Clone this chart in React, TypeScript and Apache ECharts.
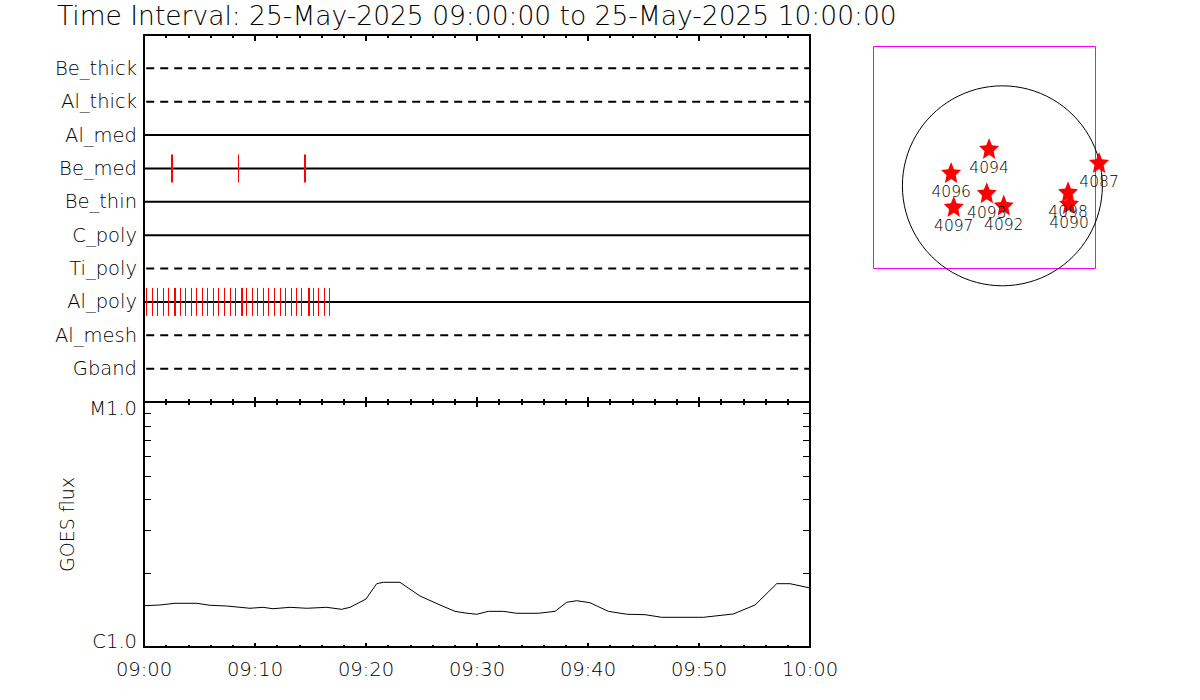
import React, { useEffect, useRef } from "react";
import * as echarts from "echarts";

const titleText = "Time Interval: 25-May-2025 09:00:00 to 25-May-2025 10:00:00";
const rowNames = ["Be_thick", "Al_thick", "Al_med", "Be_med", "Be_thin", "C_poly", "Ti_poly", "Al_poly", "Al_mesh", "Gband"];
const rowDashed = [true, true, false, false, false, false, true, false, true, true];
const beMedTimes = [2.43, 2.52, 8.51, 14.41, 14.5];
const alPolyTimes = [0.21, 0.69, 1.2, 1.71, 2.19, 2.7, 2.82, 3.22, 3.69, 4.21, 4.71, 5.2, 5.7, 6.22, 6.69, 7.21, 7.72, 8.2, 8.74, 8.86, 9.22, 9.7, 10.21, 10.69, 11.2, 11.71, 12.23, 12.7, 13.22, 13.69, 14.17, 14.73, 14.85, 15.22, 15.7, 16.22, 16.69];
const goesMinutes = [0, 1.44, 2.79, 4.75, 5.95, 7.45, 9.55, 10.72, 11.62, 13.15, 14.66, 16.46, 17.81, 18.56, 20.0, 20.96, 21.56, 23.06, 24.86, 26.67, 28.02, 28.92, 29.97, 31.02, 32.37, 33.57, 35.52, 37.03, 38.08, 38.98, 40.18, 41.83, 43.54, 45.14, 46.64, 50.39, 53.09, 55.05, 57.0, 58.2, 60];
const goesFlux = [1.474, 1.484, 1.508, 1.508, 1.48, 1.47, 1.439, 1.452, 1.433, 1.452, 1.439, 1.452, 1.425, 1.452, 1.57, 1.813, 1.837, 1.837, 1.615, 1.484, 1.398, 1.377, 1.36, 1.398, 1.398, 1.373, 1.373, 1.398, 1.522, 1.545, 1.516, 1.398, 1.36, 1.355, 1.322, 1.322, 1.364, 1.484, 1.813, 1.813, 1.741];
const fluxMinorTicks = [2, 3, 4, 5, 6, 7, 8, 9];
const regionNames = ["4094", "4096", "4093", "4097", "4092", "4098", "4090", "4087"];
const regionX = [-126, -486, -148, -461, 13, 623, 632, 917];
const regionY = [355, 127, -66, -195, -183, -57, -167, 222];
const sunRadius = 948;

const FONT = "DejaVu Sans";
const STAR = "path://M50 0 L64.1 32.6 L99.5 36 L72.8 59.4 L80.6 94 L50 76 L19.4 94 L27.2 59.4 L0.5 36 L35.9 32.6 Z";

function fmtTime(v: number) {
  const h = 9 + Math.floor(v / 60);
  const m = v % 60;
  return String(h).padStart(2, "0") + ":" + String(m).padStart(2, "0");
}

function timeAxis(gridIndex: number, position: string, major: number, minor: number, labels: boolean) {
  return {
    type: "value", gridIndex, position, min: 0, max: 60, interval: 10,
    axisLine: { show: true, onZero: false, lineStyle: { color: "#000", width: 2 } },
    axisTick: { show: true, inside: true, length: major, lineStyle: { color: "#000", width: 2 } },
    minorTick: { show: true, splitNumber: 5, length: minor, lineStyle: { color: "#000", width: 2 } },
    splitLine: { show: false }, minorSplitLine: { show: false },
    axisLabel: { show: labels, formatter: fmtTime, fontFamily: FONT, fontSize: 19.5, fontWeight: 200, color: "#000", margin: 12, hideOverlap: false, showMinLabel: true, showMaxLabel: true },
  };
}

export default function App() {
  const ref = useRef<HTMLDivElement>(null);
  useEffect(() => {
    const chart = echarts.init(ref.current!, undefined, { renderer: "svg" });
    const tickItem = (_p: any, api: any) => {
      const p = api.coord([api.value(0), api.value(1)]);
      const x = Math.round(p[0]) + 0.5;
      return { type: "line", shape: { x1: x, y1: p[1] - 14, x2: x, y2: p[1] + 14 }, style: { stroke: "#ff0000", lineWidth: 1 } };
    };
    const option: any = {
      animation: false,
      backgroundColor: "#fff",
      title: { text: titleText, left: 52, top: -3, textStyle: { fontFamily: FONT, fontSize: 26.5, fontWeight: 200, color: "#000" } },
      grid: [
        { left: 144, top: 35, width: 666, height: 367 },
        { left: 144, top: 402, width: 666, height: 245 },
        { left: 873.5, top: 46.5, width: 222, height: 222, show: true, borderColor: "#ff00ff", borderWidth: 1, backgroundColor: "transparent" },
      ],
      xAxis: [
        timeAxis(0, "top", 6, 3, false),
        timeAxis(0, "bottom", 5, 3, false),
        timeAxis(1, "top", 5, 3, false),
        timeAxis(1, "bottom", 4, 2, true),
        { type: "value", gridIndex: 2, min: -1222, max: 883, show: false },
      ],
      yAxis: [
        {
          type: "value", gridIndex: 0, position: "left", inverse: true, min: 0, max: 11, interval: 1,
          axisLine: { show: true, onZero: false, lineStyle: { color: "#000", width: 2 } }, axisTick: { show: false }, splitLine: { show: false },
          axisLabel: { formatter: (v: number) => rowNames[v - 1] || "", fontFamily: FONT, fontSize: 19.5, fontWeight: 200, color: "#000", margin: 7 },
        },
        {
          type: "value", gridIndex: 0, position: "right", inverse: true, min: 0, max: 11, interval: 1,
          axisLine: { show: true, onZero: false, lineStyle: { color: "#000", width: 2 } }, axisTick: { show: false }, splitLine: { show: false }, axisLabel: { show: false },
        },
        {
          type: "log", logBase: 10, gridIndex: 1, position: "left", min: 1, max: 10,
          axisLine: { show: true, onZero: false, lineStyle: { color: "#000", width: 2 } }, axisTick: { show: false }, splitLine: { show: false }, minorTick: { show: false },
          axisLabel: { formatter: (v: number) => (v < 5 ? "C1.0" : "M1.0"), fontFamily: FONT, fontSize: 19.5, fontWeight: 200, color: "#000", margin: 7, lineHeight: 12, verticalAlignMinLabel: "bottom", verticalAlignMaxLabel: "top" },
          name: "GOES flux", nameLocation: "middle", nameGap: 68, nameRotate: 90,
          nameTextStyle: { fontFamily: FONT, fontSize: 19, fontWeight: 200, color: "#000" },
        },
        {
          type: "log", logBase: 10, gridIndex: 1, position: "right", min: 1, max: 10,
          axisLine: { show: true, onZero: false, lineStyle: { color: "#000", width: 2 } }, axisTick: { show: false }, splitLine: { show: false }, axisLabel: { show: false },
        },
        { type: "value", gridIndex: 2, min: -784, max: 1321, show: false },
      ],
      series: [
        ...rowNames.map((name, i) => ({
          type: "line", name, xAxisIndex: 0, yAxisIndex: 0, silent: true, symbol: "none",
          data: [[rowDashed[i] ? 0.2 : 0, i + 1], [60, i + 1]],
          lineStyle: { color: "#000", width: 2, type: rowDashed[i] ? [8, 6] : "solid" },
        })),
        {
          type: "custom", xAxisIndex: 0, yAxisIndex: 0, z: 5, renderItem: tickItem,
          data: [...beMedTimes.map((t) => [t, 4]), ...alPolyTimes.map((t) => [t, 8])],
        },
        {
          type: "custom", xAxisIndex: 3, yAxisIndex: 2, z: 3,
          renderItem: (_p: any, api: any) => {
            const a = api.coord([0, api.value(0)]);
            const b = api.coord([60, api.value(0)]);
            const y = Math.round(a[1]) + 0.5;
            return {
              type: "group",
              children: [
                { type: "line", shape: { x1: a[0], y1: y, x2: a[0] + 7, y2: y }, style: { stroke: "#000", lineWidth: 1 } },
                { type: "line", shape: { x1: b[0] - 7, y1: y, x2: b[0], y2: y }, style: { stroke: "#000", lineWidth: 1 } },
              ],
            };
          },
          encode: { y: 0 },
          data: fluxMinorTicks.map((v) => [v]),
        },
        {
          type: "line", xAxisIndex: 3, yAxisIndex: 2, symbol: "none", silent: true,
          data: goesMinutes.map((t, i) => [t, goesFlux[i]]),
          lineStyle: { color: "#000", width: 1 },
        },
        {
          type: "custom", xAxisIndex: 4, yAxisIndex: 4, clip: false, z: 2,
          renderItem: (_p: any, api: any) => {
            const c = api.coord([0, 0]);
            const e = api.coord([sunRadius, 0]);
            return { type: "circle", shape: { cx: c[0], cy: c[1], r: e[0] - c[0] }, style: { fill: "none", stroke: "#000", lineWidth: 1 } };
          },
          data: [[0, 0]],
        },
        {
          type: "scatter", xAxisIndex: 4, yAxisIndex: 4, clip: false, z: 4, symbol: STAR, symbolSize: [20, 21], silent: true,
          itemStyle: { color: "#ff0000", opacity: 1 },
          label: {
            show: true, position: "inside", offset: [0, 20], formatter: (p: any) => p.name,
            fontFamily: FONT, fontSize: 15.5, fontWeight: 200, color: "#000",
          },
          data: regionNames.map((name, i) => ({ name, value: [regionX[i], regionY[i]] })),
        },
      ],
    };
    chart.setOption(option);
    return () => chart.dispose();
  }, []);
  return <div ref={ref} style={{ position: "fixed", left: 0, top: 0, width: 1200, height: 700, background: "#fff" }} />;
}
